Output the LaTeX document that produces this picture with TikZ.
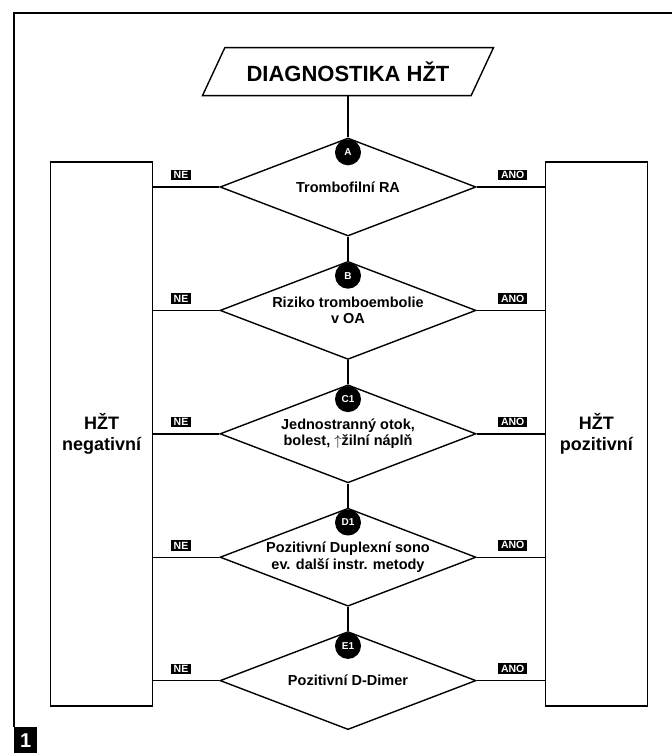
\documentclass[tikz,border=0pt]{standalone}
\usepackage{fontspec}
\setmainfont{Liberation Sans}
\usepackage{tikz}
\usetikzlibrary{positioning,shapes.geometric}
\tikzset{
  ln/.style={line width=1.4pt,draw=black},
  ttl/.style={trapezium,trapezium left angle=65,trapezium right angle=115,trapezium stretches body=true,draw,line width=1.4pt,minimum width=291pt,inner xsep=0pt,inner ysep=14pt,font=\fontsize{22}{24}\selectfont\bfseries},
  diam/.style={diamond,draw,shape aspect=2.6,line width=1.4pt,minimum width=256pt,minimum height=98pt,inner sep=0pt,align=center,font=\fontsize{14.5}{16.5}\selectfont\bfseries},
  tag/.style={circle,fill=black,text=white,minimum size=26pt,inner sep=0pt,font=\fontsize{10}{11}\selectfont\bfseries},
  yn/.style={fill=black,text=white,inner xsep=3pt,inner ysep=1.5pt,font=\fontsize{10.5}{11}\selectfont\bfseries},
  res/.style={draw,line width=1.4pt,minimum width=102pt,minimum height=544pt,align=center,font=\fontsize{18}{21}\selectfont\bfseries},
  badge/.style={fill=black,text=white,minimum width=23pt,minimum height=27pt,inner sep=0pt,font=\fontsize{20}{20}\selectfont\bfseries},
}
\begin{document}
\begin{tikzpicture}[x=1pt,y=-1pt,node distance=24pt]
  \useasboundingbox (0,0) rectangle (672,753);
  \node[diam] (dA) at (348,187) {Trombofilní RA};
  \node[diam,below=of dA] (dB) {Riziko tromboembolie\\v OA};
  \node[diam,below=of dB] (dC) {Jednostranný otok,\\bolest, $\uparrow$žilní náplň};
  \node[diam,below=of dC] (dD) {Pozitivní Duplexní sono\\ev. další instr. metody};
  \node[diam,below=of dD] (dE) {Pozitivní D-Dimer};
  \node[ttl,above=41pt of dA] (title) {DIAGNOSTIKA HŽT};
  \node[res,left=66pt of dC] (hztneg) {HŽT\\negativní};
  \node[res,right=68pt of dC] (hztpoz) {HŽT\\pozitivní};
  \draw[ln] (title.south) -- (dA.north);
  \foreach \a/\b in {dA/dB,dB/dC,dC/dD,dD/dE} \draw[ln] (\a.south) -- (\b.north);
  \foreach \d in {dA,dB,dC,dD,dE} {
    \draw[ln] (\d.west) -- (hztneg.east |- \d.west) node[yn,pos=.58,above=6pt] {NE};
    \draw[ln] (\d.east) -- (hztpoz.west |- \d.east) node[yn,pos=.53,above=6pt] {ANO};
  }
  \foreach \d/\t in {dA/A,dB/B,dC/C1,dD/D1,dE/E1}
    \node[tag] (t\d) at ([yshift=-15pt]\d.north) {\t};
  % frame and figure number
  \node[badge,anchor=north west] (num) at (14,727) {1};
  \draw[ln] (num.north west) -- (14,13) -- (672,13);
\end{tikzpicture}
\end{document}
